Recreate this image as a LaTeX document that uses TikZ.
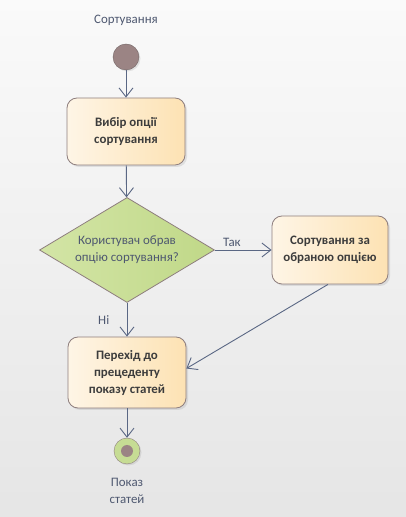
\documentclass[tikz,border=0pt]{standalone}
\usepackage{fontspec}
\setmainfont{Carlito}
\usepackage{tikz}
\usetikzlibrary{arrows.meta,positioning,shapes.geometric,shadows}
\definecolor{edgeblue}{HTML}{5A6784}
\definecolor{boxline}{HTML}{8E7E7E}
\definecolor{boxleft}{HTML}{FEF5E6}
\definecolor{boxright}{HTML}{FDE2B3}
\definecolor{decleft}{HTML}{D3E5A6}
\definecolor{decright}{HTML}{C0D888}
\definecolor{startfill}{HTML}{9B8484}
\definecolor{labeltext}{HTML}{4E5870}
\definecolor{boxtext}{HTML}{3C3C3C}
\newcommand*{\diagfont}{\fontsize{12.9}{17}\selectfont}
\tikzset{
  actbox/.style={rectangle, rounded corners=10pt, draw=boxline, line width=0.8pt,
    left color=boxleft, right color=boxright, minimum width=118pt, minimum height=68pt,
    align=center, font=\diagfont\bfseries, text=boxtext,
    drop shadow={opacity=0.18, shadow xshift=2pt, shadow yshift=-2pt}},
  decision/.style={diamond, draw=boxline, line width=0.8pt, left color=decleft, right color=decright,
    minimum width=175pt, minimum height=105pt, inner sep=0pt, aspect=1.67,
    align=center, text=labeltext},
  flow/.style={draw=edgeblue, line width=0.9pt, -{Straight Barb[length=9pt,width=14pt]}},
  tag/.style={text=labeltext, align=center}
}
\begin{document}
\begin{tikzpicture}[x=1pt, y=1pt, font=\diagfont]
  \fill[top color=white!98!black, bottom color=white!90!black] (0,0) rectangle (406,517);
  \useasboundingbox (0,0) rectangle (406,517);
  % start and title
  \node[tag] (title) at (126,497) {Сортування};
  \node[circle, draw=boxline!80!black, fill=startfill, minimum size=26pt, inner sep=0pt,
    drop shadow={opacity=0.18, shadow xshift=1.5pt, shadow yshift=-1.5pt}] (start) at (126,460) {};
  % actions
  \node[actbox, minimum height=67pt] (choose) at (126,385.5) {Вибір опції\\сортування};
  \node[decision] (check) at (127,267) {Користувач обрав\\опцію сортування?};
  \node[actbox, minimum width=116pt] (sortby) at (330,267) {Сортування за\\обраною опцією};
  \node[actbox, minimum height=71pt] (goto) at (127,144.5) {Перехід до\\прецеденту\\показу статей};
  % end
  \node[circle, draw=boxline, fill=decright!90!white, minimum size=26pt, inner sep=0pt,
    drop shadow={opacity=0.18, shadow xshift=1.5pt, shadow yshift=-1.5pt}] (stop) at (127,66) {};
  \node[circle, fill=startfill, minimum size=12pt, inner sep=0pt] (stopdot) at (stop) {};
  \node[tag] (stoplabel) at (127,26) {Показ\\статей};
  \draw[flow] (start) -- (choose);
  \draw[flow] (choose) -- (check);
  \draw[flow] (check) -- node[tag, above, pos=0.3] {Так} (sortby);
  \draw[flow] (check) -- node[tag, left, xshift=-14pt] {Ні} (goto);
  \draw[flow] ([xshift=-2pt]sortby.south) -- ([yshift=4pt]goto.east);
  \draw[flow] (goto) -- (stop);
\end{tikzpicture}
\end{document}
